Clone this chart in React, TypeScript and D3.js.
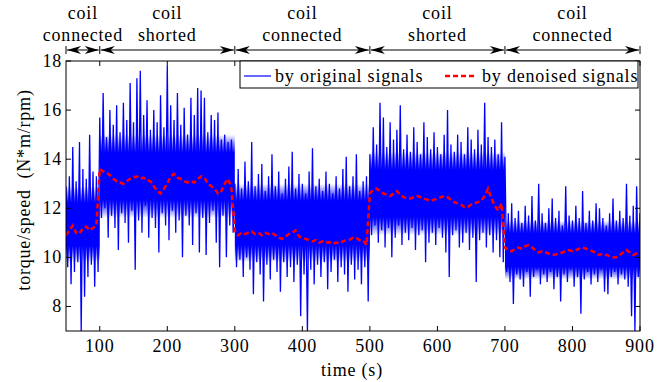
import { useRef, useEffect } from "react";
import * as d3 from "d3";

// original signal, read as upper / lower swing every 5 s starting at t = 50 s
const sigHigh = [
  12.9, 13.3, 14.5, 13.1, 14.7, 13.6, 13.2, 15.0, 13.5, 13.3,
  15.7, 16.7, 14.9, 16.0, 15.4, 16.2, 15.1, 16.3, 15.6, 17.1, 15.5, 17.3, 17.6, 15.8, 16.4, 15.2, 16.0, 15.5, 16.6, 15.3,
  17.8, 16.2, 15.6, 16.7, 15.4, 16.1, 15.0, 16.5, 15.8, 16.9, 16.8, 16.5, 15.1, 15.8, 15.6, 15.9, 14.8, 15.0, 14.7, 14.8,
  13.0, 13.6, 12.8, 13.9, 13.1, 14.7, 12.9, 13.4, 13.8, 12.7, 13.3, 14.2, 12.9, 13.5, 12.6, 13.2, 13.7, 14.3, 12.8, 13.4,
  13.0, 12.6, 13.5, 14.45, 12.9, 13.2, 12.7, 13.5, 13.0, 12.6, 13.3, 12.8, 13.6, 14.1, 12.9, 13.3, 14.2, 12.7, 13.1, 13.3,
  14.2, 15.3, 14.6, 16.3, 15.7, 14.5, 15.5, 14.8, 15.2, 16.2, 14.4, 15.0, 14.3, 15.3, 14.7, 14.2, 15.5, 14.9, 14.4, 15.1,
  14.5, 14.2, 15.0, 16.0, 14.6, 14.3, 15.0, 14.7, 14.2, 15.3, 14.8, 14.4, 15.2, 14.6, 16.3, 14.9, 14.5, 14.8, 14.2, 15.5,
  14.1, 11.8, 12.2, 11.6, 11.9, 11.4, 12.1, 11.7, 12.5, 11.5, 13.0, 11.8, 11.4, 12.0, 12.4, 11.6, 11.9, 11.3, 12.9, 11.7,
  11.5, 12.1, 11.6, 12.7, 11.4, 11.9, 11.5, 12.2, 12.0, 11.6, 11.3, 11.8, 12.4, 11.5, 11.9, 11.6, 13.0, 11.7, 12.1, 12.9, 11.8,
];
const sigLow = [
  9.6, 8.9, 9.4, 9.8, 7.0, 8.4, 9.2, 9.7, 8.8, 9.4,
  11.6, 12.0, 10.8, 11.7, 11.2, 10.3, 11.8, 11.4, 10.6, 11.9, 9.5, 11.5, 11.0, 12.1, 10.8, 11.6, 11.2, 10.2, 11.8, 11.3,
  10.7, 11.9, 11.0, 11.5, 10.0, 11.7, 11.3, 10.5, 11.8, 10.2, 11.6, 10.1, 11.4, 11.9, 10.6, 9.6, 11.7, 10.0, 11.3, 11.0,
  9.6, 9.9, 9.2, 10.0, 9.5, 8.5, 9.8, 9.3, 8.2, 9.7, 9.1, 9.9, 9.4, 8.6, 9.8, 9.2, 9.6, 9.0, 9.7, 7.6,
  9.3, 7.0, 9.5, 8.9, 9.7, 9.2, 9.8, 8.7, 9.4, 9.9, 9.0, 9.6, 9.3, 8.6, 9.7, 9.1, 9.5, 8.9, 9.6, 8.2,
  10.9, 11.3, 10.6, 11.1, 10.4, 11.2, 10.0, 10.8, 11.3, 10.5, 11.0, 10.7, 11.2, 10.3, 10.9, 11.1, 9.8, 10.6, 11.0, 10.5,
  11.2, 10.8, 10.2, 9.2, 10.9, 11.1, 10.4, 10.6, 11.0, 10.3, 10.8, 9.0, 10.7, 11.0, 10.4, 10.9, 10.2, 10.7, 10.0, 9.8,
  9.4, 9.0, 8.1, 9.3, 9.1, 8.8, 9.4, 8.4, 9.2, 9.5, 8.9, 9.3, 9.0, 9.4, 8.7, 9.2, 8.2, 9.3, 9.0, 9.5,
  8.8, 9.2, 7.7, 9.1, 9.4, 8.9, 9.3, 9.0, 9.5, 8.6, 8.5, 9.2, 9.4, 8.9, 9.3, 9.1, 8.8, 7.6, 7.0, 9.2, 9.0,
];
// dense (solid-looking) part of the original signal, per segment
const coreHigh = [12.9, 15.0, 13.0, 14.3, 11.5];
const coreLow = [9.8, 11.6, 9.8, 10.9, 9.1];
// denoised signal, every 5 s from t = 50 s
const denoised = [
  10.9, 11.1, 11.3, 11.0, 10.97, 11.2, 11.25, 11.1, 11.2, 11.3,
  13.6, 13.5, 13.45, 13.35, 13.2, 13.1, 13.05, 13.0, 13.1, 13.2, 13.25, 13.3, 13.2, 13.25, 13.15, 13.1, 12.9, 12.7, 12.6, 12.8,
  13.0, 13.3, 13.4, 13.25, 13.2, 13.1, 13.05, 13.1, 13.05, 13.2, 13.3, 13.25, 13.0, 12.9, 12.8, 12.6, 12.7, 13.0, 13.2, 12.8,
  11.1, 10.9, 11.0, 10.95, 11.0, 11.05, 10.95, 11.0, 10.9, 11.0, 10.95, 11.0, 10.9, 10.8, 10.75, 10.85, 10.95, 11.0, 11.1, 10.85,
  10.8, 10.75, 10.7, 10.65, 10.7, 10.6, 10.65, 10.6, 10.62, 10.55, 10.6, 10.58, 10.65, 10.7, 10.72, 10.8, 10.78, 10.7, 10.68, 10.5,
  12.6, 12.75, 12.8, 12.7, 12.6, 12.55, 12.5, 12.6, 12.7, 12.55, 12.45, 12.4, 12.4, 12.45, 12.5, 12.45, 12.4, 12.35, 12.3, 12.35,
  12.4, 12.45, 12.5, 12.45, 12.35, 12.25, 12.2, 12.15, 12.05, 12.05, 12.15, 12.2, 12.25, 12.3, 12.5, 12.8, 12.4, 12.1, 11.9, 12.2,
  10.4, 10.3, 10.25, 10.35, 10.4, 10.35, 10.45, 10.5, 10.4, 10.3, 10.2, 10.25, 10.2, 10.15, 10.1, 10.12, 10.15, 10.2, 10.25, 10.3,
  10.25, 10.3, 10.35, 10.4, 10.35, 10.3, 10.25, 10.15, 10.1, 10.15, 10.1, 10.05, 10.0, 10.0, 10.1, 10.2, 10.3, 10.2, 10.1, 10.15, 10.2,
];
const xTicks = [100, 200, 300, 400, 500, 600, 700, 800, 900];
const yTicks = [8, 10, 12, 14, 16, 18];
const segBounds = [50, 100, 300, 500, 700, 900];
const segTop = ["coil", "coil", "coil", "coil", "coil"];
const segBottom = ["connected", "shorted", "connected", "shorted", "connected"];

const FONT = "'Liberation Serif', 'Times New Roman', serif";

export default function App() {
  const svgRef = useRef<SVGSVGElement>(null);

  useEffect(() => {
    const svg = d3.select(svgRef.current);
    const width = 672;
    const height = 382;
    const left = 66, right = 640, top = 61, bottom = 331;

    svg.selectAll("*").remove();
    svg.attr("viewBox", `0 0 ${width} ${height}`);
    svg.append("rect").attr("width", width).attr("height", height).attr("fill", "white");

    const x = d3.scaleLinear().domain([50, 900]).range([left, right]);
    const y = d3.scaleLinear().domain([7, 18]).range([bottom, top]);

    const defs = svg.append("defs");
    defs.append("clipPath").attr("id", "plotclip")
      .append("rect")
      .attr("x", left).attr("y", top)
      .attr("width", right - left).attr("height", bottom - top);
    // core band fades out towards its edges, where the raw trace thins into spikes
    const grad = defs.append("linearGradient").attr("id", "coreFade")
      .attr("x1", 0).attr("x2", 0).attr("y1", 0).attr("y2", 1);
    [[0, 0], [0.22, 1], [0.78, 1], [1, 0]].forEach(([o, a]) => {
      grad.append("stop").attr("offset", o).attr("stop-color", "#0000ff").attr("stop-opacity", a);
    });

    const plot = svg.append("g").attr("clip-path", "url(#plotclip)");

    coreHigh.forEach((h, i) => {
      plot.append("rect")
        .attr("x", x(segBounds[i]))
        .attr("width", x(segBounds[i + 1]) - x(segBounds[i]))
        .attr("y", y(h))
        .attr("height", y(coreLow[i]) - y(h))
        .attr("fill", "url(#coreFade)");
    });

    // original signal: zigzag between the swings
    const pts: [number, number][] = [];
    sigHigh.forEach((h, i) => {
      const t = 50 + 5 * i;
      pts.push([t, h]);
      pts.push([t + 2.5, sigLow[i]]);
    });
    const line = d3.line<[number, number]>().x(d => x(d[0])).y(d => y(d[1]));

    plot.append("path")
      .attr("d", line(pts))
      .attr("fill", "none")
      .attr("stroke", "#0000ff")
      .attr("stroke-width", 1.3);

    const redPts: [number, number][] = denoised.map((v, i) => [50 + 5 * i, v]);
    plot.append("path")
      .attr("d", line(redPts))
      .attr("fill", "none")
      .attr("stroke", "#ff0000")
      .attr("stroke-width", 2.5)
      .attr("stroke-dasharray", "5,3");

    // frame + inward ticks on all sides
    svg.append("rect")
      .attr("x", left).attr("y", top)
      .attr("width", right - left).attr("height", bottom - top)
      .attr("fill", "none").attr("stroke", "black");

    const tl = 5;
    xTicks.forEach(t => {
      svg.append("line").attr("x1", x(t)).attr("x2", x(t)).attr("y1", bottom).attr("y2", bottom - tl).attr("stroke", "black");
      svg.append("line").attr("x1", x(t)).attr("x2", x(t)).attr("y1", top).attr("y2", top + tl).attr("stroke", "black");
      svg.append("text")
        .attr("x", x(t)).attr("y", 352)
        .attr("text-anchor", "middle")
        .attr("font-family", FONT).attr("font-size", 18).attr("letter-spacing", 0.8)
        .text(t);
    });
    yTicks.forEach(v => {
      svg.append("line").attr("x1", left).attr("x2", left + tl).attr("y1", y(v)).attr("y2", y(v)).attr("stroke", "black");
      svg.append("line").attr("x1", right).attr("x2", right - tl).attr("y1", y(v)).attr("y2", y(v)).attr("stroke", "black");
      svg.append("text")
        .attr("x", 62).attr("y", y(v) + 6)
        .attr("text-anchor", "end")
        .attr("font-family", FONT).attr("font-size", 18).attr("letter-spacing", 0.8)
        .text(v);
    });

    // axis titles
    svg.append("text")
      .attr("x", 352).attr("y", 376)
      .attr("text-anchor", "middle")
      .attr("font-family", FONT).attr("font-size", 18).attr("letter-spacing", 0.8)
      .text("time (s)");
    svg.append("text")
      .attr("transform", `translate(30,190) rotate(-90)`)
      .attr("text-anchor", "middle")
      .attr("font-family", FONT).attr("font-size", 18).attr("letter-spacing", 0.8)
      .style("white-space", "pre")
      .text("torque/speed  (N*m/rpm)");

    // legend
    const lg = svg.append("g");
    lg.append("rect").attr("x", 240).attr("y", 61).attr("width", 398).attr("height", 27)
      .attr("fill", "white").attr("stroke", "black");
    lg.append("line").attr("x1", 244).attr("x2", 271).attr("y1", 76).attr("y2", 76)
      .attr("stroke", "#0000ff").attr("stroke-width", 1.2);
    lg.append("text").attr("x", 275).attr("y", 82)
      .attr("font-family", FONT).attr("font-size", 18).attr("letter-spacing", 0.8)
      .text("by original signals");
    lg.append("line").attr("x1", 445).attr("x2", 477).attr("y1", 76).attr("y2", 76)
      .attr("stroke", "#ff0000").attr("stroke-width", 2.5).attr("stroke-dasharray", "5,3");
    lg.append("text").attr("x", 482).attr("y", 82)
      .attr("font-family", FONT).attr("font-size", 18).attr("letter-spacing", 0.8)
      .text("by denoised signals");

    // segment annotations above the plot
    const ay = 50;
    const head = (xt: number, dir: number) =>
      `M${xt},${ay}L${xt - dir * 14},${ay - 4}L${xt - dir * 10},${ay}L${xt - dir * 14},${ay + 4}Z`;
    segBounds.forEach(b => {
      svg.append("line").attr("x1", x(b)).attr("x2", x(b)).attr("y1", ay - 4).attr("y2", ay + 4).attr("stroke", "black");
    });
    segTop.forEach((label, i) => {
      const a = x(segBounds[i]) + 1;
      const b = x(segBounds[i + 1]) - 1;
      svg.append("line").attr("x1", a).attr("x2", b).attr("y1", ay).attr("y2", ay).attr("stroke", "black");
      svg.append("path").attr("d", head(a, -1)).attr("fill", "black");
      svg.append("path").attr("d", head(b, 1)).attr("fill", "black");
      const cx = (a + b) / 2;
      svg.append("text").attr("x", cx).attr("y", 19)
        .attr("text-anchor", "middle")
        .attr("font-family", FONT).attr("font-size", 18).attr("letter-spacing", 0.8)
        .text(label);
      svg.append("text").attr("x", cx).attr("y", 41)
        .attr("text-anchor", "middle")
        .attr("font-family", FONT).attr("font-size", 18).attr("letter-spacing", 0.8)
        .text(segBottom[i]);
    });
  }, []);

  return (
    <div style={{ position: "fixed", left: 0, top: 0, width: 672, height: 382, background: "white" }}>
      <svg ref={svgRef} style={{ width: "672px", height: "382px", display: "block" }} />
    </div>
  );
}
